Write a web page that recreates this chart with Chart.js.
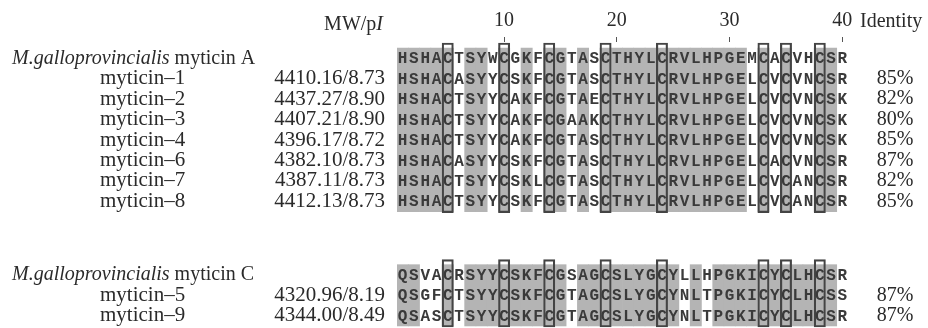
<!DOCTYPE html>
<html>
<head>
<meta charset="utf-8">
<title>Myticin alignment</title>
<script src="https://cdn.jsdelivr.net/npm/chart.js@4.4.1/dist/chart.umd.min.js"></script>
<style>
  html, body { margin: 0; padding: 0; background: #fff; }
  #wrap { width: 928px; height: 328px; position: relative; }
</style>
</head>
<body>
<div id="wrap"><canvas id="chart"></canvas></div>
<script>
// Alignment columns (x categories) and the numbered ticks on top
const positions = ['1','2','3','4','5','6','7','8','9','10',
                   '11','12','13','14','15','16','17','18','19','20',
                   '21','22','23','24','25','26','27','28','29','30',
                   '31','32','33','34','35','36','37','38','39','40'];
const tickLabels = ['10', '20', '30', '40'];

// Boxed cysteine columns
const cysteineCols = ['5', '10', '14', '19', '24', '33', '35', '38'];

// Group A: M. galloprovincialis myticin A and its isoforms
const groupATitle = 'myticin A';
const groupARef = 'HSHACTSYWCGKFCGTASCTHYLCRVLHPGEMCACVHCSR';
const groupANames = ['myticin–1', 'myticin–2', 'myticin–3', 'myticin–4', 'myticin–6', 'myticin–7', 'myticin–8'];
const groupAMw = ['4410.16/8.73', '4437.27/8.90', '4407.21/8.90', '4396.17/8.72', '4382.10/8.73', '4387.11/8.73', '4412.13/8.73'];
const groupASeqs = [
    'HSHACASYYCSKFCGTASCTHYLCRVLHPGELCVCVNCSR',
    'HSHACTSYYCAKFCGTAECTHYLCRVLHPGELCVCVNCSK',
    'HSHACTSYYCAKFCGAAKCTHYLCRVLHPGELCVCVNCSK',
    'HSHACTSYYCAKFCGTASCTHYLCRVLHPGELCVCVNCSK',
    'HSHACASYYCSKFCGTASCTHYLCRVLHPGELCACVNCSR',
    'HSHACTSYYCSKLCGTASCTHYLCRVLHPGELCVCANCSR',
    'HSHACTSYYCSKFCGTASCTHYLCRVLHPGELCVCANCSR'
];
const groupAIdentity = ['85%', '82%', '80%', '85%', '87%', '82%', '85%'];
// shaded (conserved) columns, '#' = grey
const groupAShade = '#####.##.#' + '.#.##.#.##' + '##########' + '#.#.#..##.';

// Group C: M. galloprovincialis myticin C and its isoforms
const groupCTitle = 'myticin C';
const groupCRef = 'QSVACRSYYCSKFCGSAGCSLYGCYLLHPGKICYCLHCSR';
const groupCNames = ['myticin–5', 'myticin–9'];
const groupCMw = ['4320.96/8.19', '4344.00/8.49'];
const groupCSeqs = [
    'QSGFCTSYYCSKFCGTAGCSLYGCYNLTPGKICYCLHCSS',
    'QSASCTSYYCSKFCGTAGCSLYGCYNLTPGKICYCLHCSR'
];
const groupCIdentity = ['87%', '87%'];
const groupCShade = '##..#.####' + '#####.####' + '#####.#.##' + '#########.';

const species = 'M.galloprovincialis';

// Row slots on the y axis (gap between the two groups)
const groups = [
    { start: 0, title: groupATitle, ref: groupARef, names: groupANames, mw: groupAMw,
      seqs: groupASeqs, identity: groupAIdentity, shade: groupAShade },
    { start: 10.6, title: groupCTitle, ref: groupCRef, names: groupCNames, mw: groupCMw,
      seqs: groupCSeqs, identity: groupCIdentity, shade: groupCShade }
];

const SERIF = '"Liberation Serif", "Times New Roman", serif';
const TEXT = '#2a2a2a';

const datasets = [];
groups.forEach(g => {
    const end = g.start + g.seqs.length;
    // cysteine boxes
    datasets.push({
        data: positions.map(p => cysteineCols.includes(p) ? [g.start - 0.75, end + 0.55] : null),
        backgroundColor: 'rgba(0,0,0,0)',
        borderColor: '#444',
        borderWidth: 1.5,
        borderSkipped: false,
        grouped: false,
        barPercentage: 1,
        categoryPercentage: 1,
        order: 1
    });
    // conserved-column shading
    datasets.push({
        data: positions.map((p, j) => g.shade[j] === '#' ? [g.start - 0.5, end + 0.5] : null),
        backgroundColor: '#b4b4b4',
        borderWidth: 0,
        grouped: false,
        barPercentage: 1,
        categoryPercentage: 1,
        order: 2
    });
});

// Draws the residues, the row labels and the identity column
const alignmentText = {
    id: 'alignmentText',
    afterDatasetsDraw(chart) {
        const ctx = chart.ctx;
        const xs = chart.scales.x;
        const ys = chart.scales.y;
        ctx.save();

        groups.forEach(g => {
            const rows = [g.ref].concat(g.seqs);
            rows.forEach((seq, i) => {
                const yp = ys.getPixelForValue(g.start + i);

                // residues
                ctx.font = 'bold 16px "Liberation Mono", monospace';
                ctx.fillStyle = '#3a3a3a';
                ctx.textAlign = 'center';
                ctx.textBaseline = 'middle';
                for (let j = 0; j < seq.length; j++) {
                    ctx.fillText(seq[j], xs.getPixelForValue(j), yp + 1);
                }

                ctx.fillStyle = TEXT;
                if (i === 0) {
                    // group header: italic species + name
                    ctx.textAlign = 'left';
                    ctx.font = 'italic 20px ' + SERIF;
                    ctx.fillText(species, 12, yp);
                    const w = ctx.measureText(species).width;
                    ctx.font = '20px ' + SERIF;
                    ctx.fillText(' ' + g.title, 12 + w, yp);
                } else {
                    ctx.font = '21px ' + SERIF;
                    ctx.textAlign = 'left';
                    ctx.fillText(g.names[i - 1], 100, yp);
                    ctx.textAlign = 'right';
                    ctx.fillText(g.mw[i - 1], 385, yp);
                    ctx.font = '20px ' + SERIF;
                    ctx.textAlign = 'center';
                    ctx.fillText(g.identity[i - 1], 895, yp);
                }
            });
        });

        // column headers
        ctx.fillStyle = TEXT;
        ctx.textBaseline = 'middle';
        ctx.font = 'italic 20px ' + SERIF;
        const wI = ctx.measureText('I').width;
        ctx.textAlign = 'right';
        ctx.fillText('I', 383, 25);
        ctx.font = '20px ' + SERIF;
        ctx.fillText('MW/p', 383 - wI, 25);
        ctx.textAlign = 'left';
        ctx.fillText('Identity', 860, 22);

        ctx.restore();
    }
};

new Chart(document.getElementById('chart'), {
    type: 'bar',
    data: { labels: positions, datasets: datasets },
    options: {
        responsive: true,
        maintainAspectRatio: false,
        animation: false,
        layout: { padding: { left: 397, right: 80, top: 0, bottom: 0 } },
        plugins: {
            legend: { display: false },
            tooltip: { enabled: false }
        },
        scales: {
            x: {
                position: 'top',
                offset: true,
                border: { display: false },
                grid: {
                    offset: false,
                    drawOnChartArea: false,
                    tickLength: 5,
                    lineWidth: 1,
                    color: c => tickLabels.includes(positions[c.index]) ? '#555' : 'rgba(0,0,0,0)'
                },
                ticks: {
                    autoSkip: false,
                    maxRotation: 0,
                    padding: 4,
                    color: TEXT,
                    font: { family: SERIF, size: 20 },
                    callback: (v, i) => tickLabels.includes(positions[i]) ? positions[i] : ''
                },
                afterFit: s => { s.height = 42; }
            },
            y: {
                type: 'linear',
                reverse: true,
                min: -0.8,
                max: 13.2,
                display: false
            }
        }
    },
    plugins: [alignmentText]
});
</script>
</body>
</html>
